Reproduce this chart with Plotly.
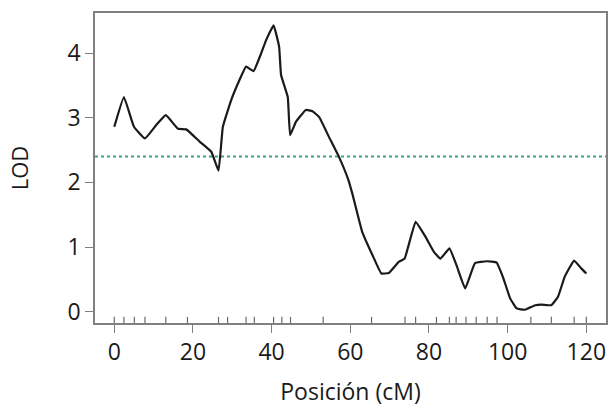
import plotly.graph_objects as go

pos_cm = [0, 2.45, 5.0, 7.8, 10.7, 13.1, 16.2, 18.3, 21.7, 24.7, 26.5, 27.6, 29.7, 31.8,
          33.5, 35.4, 37.3, 38.6, 40.5, 41.9, 42.4, 44.1, 44.7, 46.2, 48.7, 50.4, 52.1,
          54.6, 57.0, 59.5, 60.5, 63.0, 65.6, 67.9, 69.8, 72.3, 73.8, 76.6, 79.1, 81.2,
          82.9, 85.2, 87.1, 89.2, 91.7, 94.7, 97.2, 98.9, 100.6, 102.3, 104.4, 107.0,
          108.6, 111.1, 112.8, 114.5, 116.9, 118.7, 120.0]
lod = [2.86, 3.32, 2.86, 2.68, 2.89, 3.04, 2.83, 2.82, 2.63, 2.47, 2.18, 2.86, 3.27, 3.58,
       3.79, 3.72, 3.99, 4.20, 4.43, 4.10, 3.66, 3.32, 2.73, 2.94, 3.12, 3.10, 3.01,
       2.70, 2.41, 2.04, 1.83, 1.24, 0.88, 0.59, 0.60, 0.77, 0.82, 1.39, 1.16, 0.93,
       0.82, 0.98, 0.70, 0.36, 0.75, 0.78, 0.76, 0.52, 0.21, 0.05, 0.03, 0.10,
       0.11, 0.10, 0.23, 0.54, 0.79, 0.67, 0.59]
markers_cm = [0, 2.45, 5.1, 7.8, 13.1, 18.6, 26.5, 28.8, 33.5, 35.6, 40.5, 42.6, 44.8,
              53.1, 65.4, 73.9, 76.6, 81.9, 85.2, 86.9, 89.4, 92.0, 94.8, 97.3, 105.9,
              111.1, 116.9, 120.0]
threshold = 2.4
x_ticks = [0, 20, 40, 60, 80, 100, 120]
y_ticks = [0, 1, 2, 3, 4]

x_range = [-4.9, 125]
y_range = [-0.175, 4.62]
rug_len = 0.095

rug_x, rug_y = [], []
for m in markers_cm:
    rug_x += [m, m, None]
    rug_y += [y_range[0], y_range[0] + rug_len, None]

fig = go.Figure()
fig.add_trace(go.Scatter(x=rug_x, y=rug_y, mode="lines",
                         line=dict(color="#6a6a6a", width=1.2), hoverinfo="skip"))
fig.add_trace(go.Scatter(x=[x_range[0], x_range[1]], y=[threshold, threshold], mode="lines",
                         line=dict(color="#3ba57a", width=2.2, dash="dot")))
fig.add_trace(go.Scatter(x=pos_cm, y=lod, mode="lines",
                         line=dict(color="#1a1a1a", width=2.2, shape="spline", smoothing=0.3)))

axis_font = dict(family="Open Sans", size=23, color="#1a1a1a")
fig.update_layout(
    width=610, height=407,
    margin=dict(l=95, r=2, t=13, b=84),
    paper_bgcolor="white", plot_bgcolor="white",
    showlegend=False,
    xaxis=dict(range=x_range, tickvals=x_ticks, ticks="outside", ticklen=8,
               tickcolor="#808080", tickwidth=1.2, showgrid=False, zeroline=False,
               showline=True, linecolor="#808080", linewidth=1.5, mirror=True,
               tickfont=axis_font,
               title=dict(text="Posición (cM)", font=dict(family="Open Sans", size=23, color="#1a1a1a"), standoff=22)),
    yaxis=dict(range=y_range, tickvals=y_ticks, ticks="outside", ticklen=8,
               tickcolor="#808080", tickwidth=1.2, showgrid=False, zeroline=False,
               showline=True, linecolor="#808080", linewidth=1.5, mirror=True,
               tickfont=axis_font,
               title=dict(text="LOD", font=dict(family="Open Sans", size=22, color="#1a1a1a"), standoff=33)),
)
fig.write_html("out.html")
